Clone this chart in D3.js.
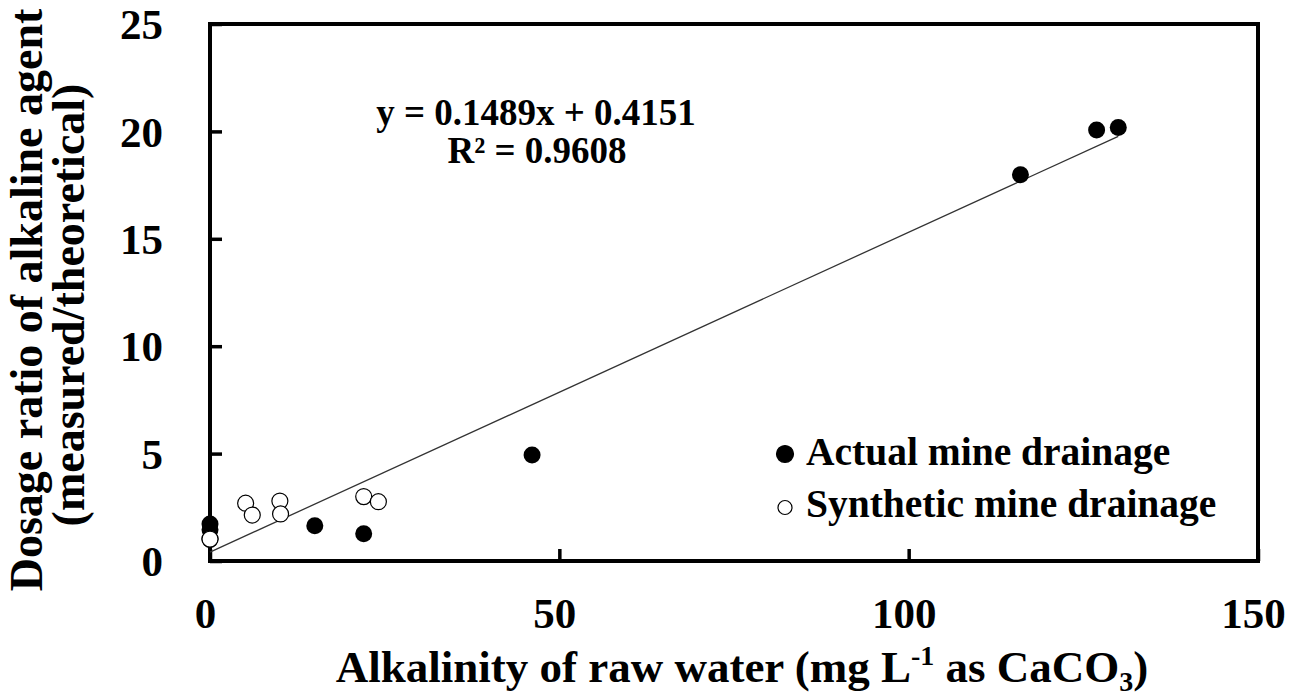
<!DOCTYPE html>
<html>
<head>
<meta charset="utf-8">
<script src="https://cdn.jsdelivr.net/npm/d3@7"></script>
<style>
  html, body { margin: 0; padding: 0; background: #fff; }
  svg { display: block; }
  text { font-family: "Liberation Serif", "Times New Roman", serif; font-weight: bold; fill: #000; }
</style>
</head>
<body>
<svg id="chart" width="1289" height="700"></svg>
<script>
// Actual mine drainage: alkalinity (mg/L as CaCO3) vs dosage ratio
const actualX = [0, 0, 15.0, 22.0, 46.1, 116.0, 126.9, 130.0];
const actualY = [1.72, 1.45, 1.64, 1.27, 4.94, 17.98, 20.07, 20.18];

// Synthetic mine drainage
const synthX = [0, 5.1, 6.05, 10.0, 10.1, 22.0, 24.1];
const synthY = [1.02, 2.69, 2.14, 2.79, 2.19, 3.0, 2.76];

// Linear fit reported on the chart
const fitSlope = 0.1489;
const fitIntercept = 0.4151;
const fitR2 = 0.9608;
const fitRange = [0, 130.0];

const xTicks = [0, 50, 100, 150];
const yTicks = [0, 5, 10, 15, 20, 25];

const legendLabels = ["Actual mine drainage", "Synthetic mine drainage"];

const W = 1289, H = 700;
const margin = { left: 210, right: 31, top: 24, bottom: 139 };
const plotW = W - margin.left - margin.right;
const plotH = H - margin.top - margin.bottom;

const svg = d3.select("#chart");
const g = svg.append("g").attr("transform", `translate(${margin.left},${margin.top})`);

const x = d3.scaleLinear().domain([0, 150]).range([0, plotW]);
const y = d3.scaleLinear().domain([0, 25]).range([plotH, 0]);

// Axes with inward ticks
const xAxis = d3.axisBottom(x).tickValues(xTicks).tickSizeInner(-12).tickSizeOuter(0).tickPadding(36);
const yAxis = d3.axisLeft(y).tickValues(yTicks).tickSizeInner(-12).tickSizeOuter(0).tickPadding(47);

const gx = g.append("g").attr("transform", `translate(0,${plotH})`).call(xAxis);
const gy = g.append("g").call(yAxis);

[gx, gy].forEach(a => {
  a.select(".domain").remove();
  a.selectAll(".tick line").attr("stroke", "#000").attr("stroke-width", 3.5);
  a.selectAll(".tick text").style("font-size", "43px").attr("fill", "#000");
});
gy.selectAll(".tick text").attr("dy", "0.34em");
gx.selectAll(".tick text").attr("dx", -5);

// Frame
g.append("rect")
  .attr("x", 0).attr("y", 0)
  .attr("width", plotW).attr("height", plotH)
  .attr("fill", "none").attr("stroke", "#000").attr("stroke-width", 4);

// Trend line
g.append("line")
  .attr("x1", x(fitRange[0])).attr("y1", y(fitSlope * fitRange[0] + fitIntercept))
  .attr("x2", x(fitRange[1])).attr("y2", y(fitSlope * fitRange[1] + fitIntercept))
  .attr("stroke", "#333").attr("stroke-width", 1.3);

// Points
const actual = actualX.map((v, i) => ({ x: v, y: actualY[i] }));
const synth = synthX.map((v, i) => ({ x: v, y: synthY[i] }));

g.selectAll("circle.synth").data(synth).join("circle")
  .attr("class", "synth")
  .attr("cx", d => x(d.x)).attr("cy", d => y(d.y)).attr("r", 8)
  .attr("fill", "#fff").attr("stroke", "#000").attr("stroke-width", 1.2);

g.selectAll("circle.actual").data(actual).join("circle")
  .attr("class", "actual")
  .attr("cx", d => x(d.x)).attr("cy", d => y(d.y)).attr("r", 8.5)
  .attr("fill", "#000");

// Redraw the open point at the origin over the filled ones
g.append("circle")
  .attr("cx", x(synth[0].x)).attr("cy", y(synth[0].y)).attr("r", 8)
  .attr("fill", "#fff").attr("stroke", "#000").attr("stroke-width", 1.2);

// Equation
const eq = svg.append("text").attr("text-anchor", "middle").style("font-size", "37px");
eq.append("tspan").attr("x", 536).attr("y", 125)
  .text(`y = ${fitSlope}x + ${fitIntercept}`);
eq.append("tspan").attr("x", 537).attr("y", 163)
  .text(`R² = ${fitR2}`);

// Legend
const legend = svg.append("g");
legendLabels.forEach((lab, i) => {
  const baseY = 465 + i * 51.5;
  legend.append("circle")
    .attr("cx", 785).attr("cy", i === 0 ? baseY - 11 : baseY - 9)
    .attr("r", i === 0 ? 8.5 : 7)
    .attr("fill", i === 0 ? "#000" : "#fff")
    .attr("stroke", "#000").attr("stroke-width", 1.2);
  legend.append("text").attr("x", 806).attr("y", baseY)
    .style("font-size", "39.5px").text(lab);
});

// X axis title
const xt = svg.append("text").attr("text-anchor", "middle")
  .attr("x", 742).attr("y", 682).style("font-size", "45px");
xt.append("tspan").text("Alkalinity of raw water (mg L");
xt.append("tspan").attr("dy", -17).style("font-size", "28px").text("-1");
xt.append("tspan").attr("dy", 17).text(" as CaCO");
xt.append("tspan").attr("dy", 9).style("font-size", "28px").text("3");
xt.append("tspan").attr("dy", -9).text(")");

// Y axis title
const yt = svg.append("text").attr("text-anchor", "middle")
  .attr("transform", "translate(0,300) rotate(-90)").style("font-size", "46px");
yt.append("tspan").attr("x", 0).attr("y", 42).text("Dosage ratio of alkaline agent");
yt.append("tspan").attr("x", -5).attr("y", 84).text("(measured/theoretical)");
</script>
</body>
</html>
